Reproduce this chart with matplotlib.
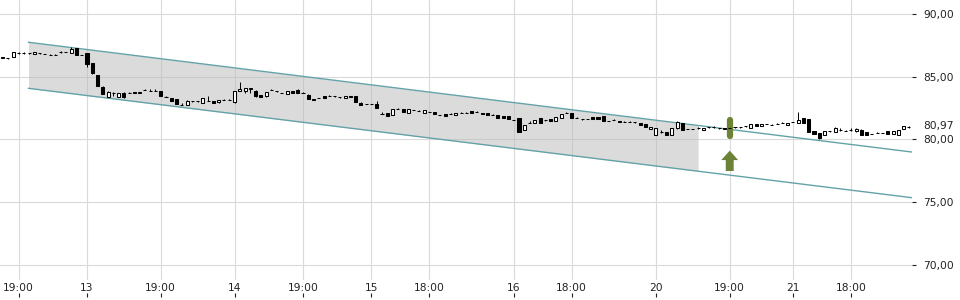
import numpy as np
import matplotlib
matplotlib.use("Agg")
import matplotlib.pyplot as plt

# ---------------- data ----------------
opens = [86.50, 86.49, 86.60, 86.86, 86.88, 86.88, 86.81, 86.88, 86.82, 86.77,
         86.77, 86.94, 86.98, 86.92, 87.27, 86.74, 86.87, 86.07, 85.14, 84.16,
         83.41, 83.67, 83.41, 83.73, 83.72, 83.75, 83.70, 83.93, 83.89, 83.90,
         83.86, 83.42, 83.28, 83.23, 82.74, 82.77, 83.05, 83.05, 82.91, 83.08,
         83.09, 82.95, 83.18, 83.18, 82.95, 83.86, 83.90, 84.05, 83.89, 83.57,
         83.44, 83.98, 83.89, 83.72, 83.63, 83.89, 83.97, 83.70, 83.57, 83.25,
         83.32, 83.44, 83.48, 83.45, 83.37, 83.31, 83.45, 83.44, 82.93, 82.84,
         82.84, 82.80, 82.02, 82.09, 81.95, 82.47, 82.41, 82.14, 82.36, 82.28,
         82.14, 82.22, 82.21, 81.96, 82.03, 82.02, 81.95, 82.15, 82.15, 82.27,
         82.20, 82.14, 82.14, 81.94, 81.95, 81.87, 81.87, 81.56, 81.69, 80.76,
         81.33, 81.34, 81.69, 81.56, 81.61, 81.47, 81.69, 82.09, 82.09, 81.75,
         81.64, 81.64, 81.77, 81.82, 81.87, 81.50, 81.54, 81.47, 81.43, 81.41,
         81.38, 81.29, 81.24, 80.84, 80.36, 80.62, 80.62, 80.36, 80.89, 81.29,
         80.85, 80.85, 80.88, 80.76, 80.98, 80.96, 80.90, 80.90, 80.88, 80.98,
         80.96, 81.06, 80.92, 81.24, 81.11, 81.25, 81.19, 81.23, 81.30, 81.18,
         81.40, 81.34, 81.71, 81.66, 80.65, 80.54, 80.38, 80.66, 80.60, 80.77,
         80.71, 80.77, 80.65, 80.79, 80.59, 80.45, 80.51, 80.52, 80.65, 80.44,
         80.33, 80.86, 80.96]
closes = [86.58, 86.50, 86.95, 86.88, 86.86, 86.86, 86.97, 86.86, 86.80, 86.75,
          86.75, 86.96, 86.96, 87.19, 86.73, 86.72, 86.02, 85.27, 84.29, 83.63,
          83.81, 83.69, 83.68, 83.41, 83.74, 83.71, 83.81, 83.95, 83.90, 83.89,
          83.49, 83.40, 83.09, 82.83, 82.76, 83.09, 83.03, 83.03, 83.31, 83.10,
          82.91, 83.17, 83.16, 83.16, 83.88, 84.02, 84.08, 84.08, 83.44, 83.36,
          83.78, 83.96, 83.88, 83.70, 83.84, 83.71, 83.71, 83.72, 83.25, 83.17,
          83.30, 83.31, 83.50, 83.43, 83.35, 83.44, 83.42, 82.99, 82.75, 82.82,
          82.82, 82.55, 82.04, 81.87, 82.41, 82.44, 82.21, 82.41, 82.34, 82.30,
          82.35, 82.20, 82.03, 81.94, 81.87, 82.04, 82.14, 82.13, 82.13, 82.09,
          82.22, 82.03, 81.95, 81.96, 81.69, 81.69, 81.61, 81.54, 80.62, 81.16,
          81.35, 81.55, 81.29, 81.55, 81.47, 81.82, 82.01, 82.11, 81.74, 81.73,
          81.63, 81.62, 81.63, 81.63, 81.47, 81.48, 81.56, 81.37, 81.41, 81.43,
          81.36, 81.16, 81.02, 81.02, 80.89, 80.63, 80.36, 80.94, 81.37, 80.76,
          80.83, 80.83, 80.90, 80.94, 80.96, 80.98, 80.88, 80.87, 80.90, 80.96,
          80.98, 81.05, 81.24, 81.05, 81.24, 81.23, 81.17, 81.25, 81.32, 81.32,
          81.38, 81.58, 81.31, 80.60, 80.44, 80.10, 80.70, 80.64, 80.92, 80.79,
          80.69, 80.79, 80.87, 80.38, 80.38, 80.43, 80.53, 80.50, 80.44, 80.65,
          80.78, 81.05, 80.97]
highs = [86.60, 86.51, 86.97, 86.97, 86.97, 86.89, 86.98, 86.89, 86.83, 86.78,
         86.78, 87.02, 87.00, 87.39, 87.29, 86.75, 86.89, 86.08, 85.16, 84.26,
         83.83, 83.81, 83.70, 83.75, 83.82, 83.76, 83.82, 84.05, 84.00, 83.99,
         83.88, 83.43, 83.30, 83.25, 82.88, 83.11, 83.06, 83.06, 83.33, 83.49,
         83.10, 83.18, 83.19, 83.19, 83.90, 84.58, 84.10, 84.10, 83.91, 83.58,
         83.80, 83.99, 83.90, 83.73, 83.85, 83.90, 83.99, 83.80, 83.59, 83.26,
         83.33, 83.45, 83.58, 83.46, 83.38, 83.45, 83.46, 83.46, 82.95, 82.85,
         82.85, 83.07, 82.19, 82.10, 82.42, 82.48, 82.42, 82.42, 82.37, 82.38,
         82.36, 82.23, 82.22, 81.97, 82.04, 82.12, 82.15, 82.16, 82.16, 82.28,
         82.30, 82.15, 82.15, 82.04, 81.96, 81.88, 81.88, 81.57, 81.71, 81.17,
         81.45, 81.56, 81.70, 81.57, 81.62, 81.83, 82.02, 82.23, 82.10, 81.76,
         81.65, 81.65, 81.78, 81.83, 81.88, 81.51, 81.64, 81.48, 81.44, 81.51,
         81.39, 81.30, 81.25, 81.03, 80.94, 80.72, 80.63, 80.95, 81.45, 81.30,
         80.86, 80.86, 80.98, 80.95, 80.99, 81.06, 80.91, 80.91, 80.91, 80.99,
         80.99, 81.07, 81.25, 81.25, 81.25, 81.26, 81.20, 81.33, 81.40, 81.33,
         81.41, 82.19, 81.72, 81.67, 80.70, 80.55, 80.71, 80.67, 81.00, 80.88,
         80.72, 80.88, 80.95, 80.80, 80.60, 80.46, 80.61, 80.53, 80.66, 80.66,
         80.79, 81.06, 81.05]
lows = [86.48, 86.40, 86.58, 86.85, 86.85, 86.85, 86.80, 86.85, 86.79, 86.74,
        86.74, 86.93, 86.95, 86.90, 86.71, 86.70, 85.75, 85.25, 84.27, 83.61,
        83.39, 83.49, 83.39, 83.28, 83.71, 83.70, 83.69, 83.92, 83.88, 83.88,
        83.47, 83.39, 83.07, 82.81, 82.73, 82.75, 83.02, 83.02, 82.89, 83.07,
        82.90, 82.88, 83.15, 83.15, 82.93, 83.84, 83.71, 83.71, 83.42, 83.35,
        83.42, 83.95, 83.79, 83.69, 83.62, 83.70, 83.70, 83.69, 83.23, 83.16,
        83.29, 83.30, 83.47, 83.42, 83.34, 83.30, 83.41, 82.97, 82.73, 82.81,
        82.81, 82.49, 82.01, 81.86, 81.94, 82.43, 82.20, 82.13, 82.33, 82.27,
        82.13, 82.19, 82.02, 81.93, 81.86, 82.01, 81.94, 82.12, 82.12, 82.08,
        82.19, 82.02, 81.94, 81.93, 81.68, 81.68, 81.60, 81.53, 80.60, 80.75,
        81.32, 81.33, 81.28, 81.47, 81.46, 81.46, 81.68, 82.08, 81.73, 81.72,
        81.55, 81.61, 81.62, 81.62, 81.46, 81.47, 81.53, 81.36, 81.40, 81.40,
        81.35, 81.15, 81.01, 80.83, 80.34, 80.52, 80.35, 80.35, 80.87, 80.75,
        80.82, 80.82, 80.87, 80.75, 80.95, 80.95, 80.87, 80.86, 80.87, 80.95,
        80.95, 80.97, 80.91, 81.04, 81.10, 81.22, 81.16, 81.22, 81.29, 81.17,
        81.37, 81.32, 81.30, 80.59, 80.40, 80.02, 80.37, 80.63, 80.58, 80.70,
        80.68, 80.70, 80.63, 80.37, 80.37, 80.42, 80.50, 80.49, 80.43, 80.43,
        80.32, 80.85, 80.88]

tick_pos = [3, 16, 30, 44, 57, 70, 81, 97, 108, 124, 138, 150, 161]
tick_labels = ["19:00", "13", "19:00", "14", "19:00", "15", "18:00",
               "16", "18:00", "20", "19:00", "21", "18:00"]
y_ticks = [70, 75, 80, 85, 90]

channel_x = [4.9, 172.6]
channel_upper = [87.75, 79.00]
channel_lower = [84.08, 75.36]
fill_end_x = 132.0

signal_idx = 138
signal_bar = [80.30, 81.56]
arrow_base = 77.49
arrow_tip = 79.11
last_price = 80.97

# ---------------- figure ----------------
fig = plt.figure(figsize=(9.6, 3.0), dpi=100)
ax = fig.add_axes([0, 20 / 300, 912 / 960, 280 / 300])
ax.set_xlim(-0.5125, 172.6)
ax.set_ylim(68.80, 91.12)

for s in ax.spines.values():
    s.set_visible(False)
ax.grid(True, color="#dadada", lw=0.8)
ax.set_axisbelow(True)

# channel
fx = np.array([channel_x[0], fill_end_x])
ax.fill_between(fx, np.interp(fx, channel_x, channel_lower),
                np.interp(fx, channel_x, channel_upper),
                color="#b9b9b9", alpha=0.5, lw=0, zorder=1)
ax.plot(channel_x, channel_upper, color="#63a2a8", lw=1.0, zorder=2)
ax.plot(channel_x, channel_lower, color="#63a2a8", lw=1.0, zorder=2)

# signal highlight
green = "#6b8237"
ax.plot([signal_idx, signal_idx], signal_bar, color=green, lw=4.5,
        solid_capstyle="round", zorder=3.5)
ax.arrow(signal_idx, arrow_base, 0, arrow_tip - arrow_base, width=1.5,
         head_width=3.2, head_length=0.75, length_includes_head=True,
         color=green, lw=0, zorder=5)

# candles
o = np.array(opens)
c = np.array(closes)
x = np.arange(len(o))
up = c >= o
ax.vlines(x, lows, highs, color="black", lw=0.7, zorder=3)
ax.bar(x, np.abs(c - o), bottom=np.minimum(o, c), width=0.58,
       color=["white" if u else "black" for u in up],
       edgecolor="black", lw=0.75, zorder=4)

# axes / ticks
txt = "#222222"
ax.yaxis.tick_right()
ax.set_yticks(y_ticks, [f"{v:.2f}".replace(".", ",") for v in y_ticks])
ax.tick_params(axis="y", length=3, width=0.8, pad=5, labelsize=7.7,
               colors=txt)
ax.set_xticks(tick_pos, tick_labels)
ax.tick_params(axis="x", length=0, pad=2, labelsize=7.7, colors=txt)

sec = ax.secondary_xaxis(-13 / 280)
sec.set_xticks(tick_pos)
sec.tick_params(axis="x", length=3, width=0.8, labelbottom=False, colors=txt)
for s in sec.spines.values():
    s.set_visible(False)

ax.annotate(f"{last_price:.2f}".replace(".", ","), xy=(1, last_price),
            xycoords=("axes fraction", "data"), xytext=(8, 0.8),
            textcoords="offset points", ha="left", va="center",
            fontsize=7.7, color=txt)

fig.savefig("out.png", dpi=100)
